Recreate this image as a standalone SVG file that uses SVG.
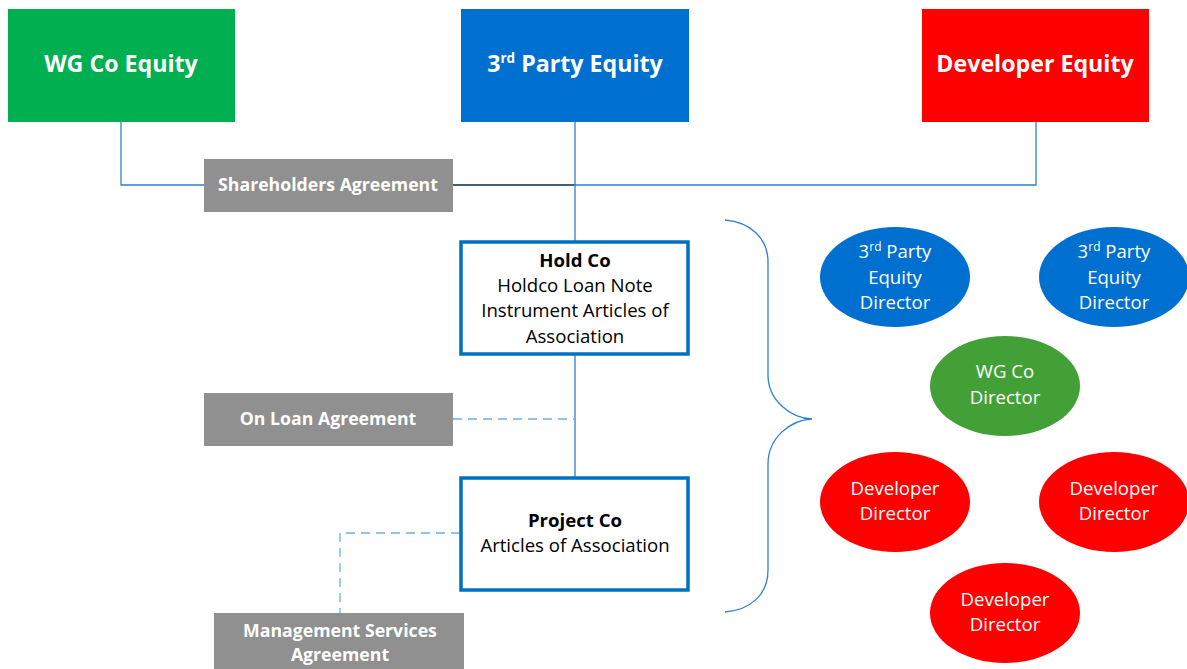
<svg xmlns="http://www.w3.org/2000/svg" width="1187" height="669" viewBox="0 0 1187 669">
<style>
.t{font-family:"Open Sans","Liberation Sans",sans-serif;text-anchor:middle}
.big{font-size:23.2px;font-weight:bold;fill:#fff}
.ag{font-size:17.7px;font-weight:bold;fill:#fff}
.bx{font-size:18.6px;fill:#000}
.el{font-size:18.6px;fill:#fff}
.b{font-weight:bold}
.conn{fill:none;stroke:#2E7FD6;stroke-width:1.3}
.dash{fill:none;stroke:#6AAEE8;stroke-width:1.3;stroke-dasharray:9 6}
.co{fill:#fff;stroke:#0070C0;stroke-width:3.5}
.grey{fill:#8F908F}
</style>
<rect width="1187" height="669" fill="#fff"/>
<g id="connectors">
<path class="conn" d="M121 122V185H1036V122"/>
<path d="M453 185H575" fill="none" stroke="#3A4A5A" stroke-width="1.3"/>
<path class="conn" d="M575 122V241M575 355V477"/>
<path class="dash" d="M453 419H575"/>
<path class="dash" d="M460 533H340V613"/>
<path class="conn" d="M725 220C750 222 768 238 768 262V375C768 400 790 418 812 419C790 420 768 438 768 464V570C768 595 750 610 725 612"/>
</g>
<g id="wg-equity"><rect x="8" y="9" width="227" height="113" fill="#00B050"/><text class="t big" x="121" y="72">WG Co Equity</text></g>
<g id="third-equity"><rect x="461" y="9" width="228" height="113" fill="#0070D0"/><text class="t big" x="575" y="72">3<tspan font-size="13.5" dy="-9">rd</tspan><tspan dy="9"> Party Equity</tspan></text></g>
<g id="dev-equity"><rect x="922" y="9" width="227" height="113" fill="#FF0000"/><text class="t big" x="1035" y="72">Developer Equity</text></g>
<g id="sha"><rect class="grey" x="204" y="159" width="249" height="53"/><text class="t ag" x="328" y="191">Shareholders Agreement</text></g>
<g id="holdco"><rect class="co" x="461" y="242" width="227" height="112"/>
<text class="t bx" x="575"><tspan class="b" x="575" y="267">Hold Co</tspan><tspan x="575" y="292">Holdco Loan Note</tspan><tspan x="575" y="317">Instrument Articles of</tspan><tspan x="575" y="343">Association</tspan></text></g>
<g id="onloan"><rect class="grey" x="204" y="393" width="249" height="53"/><text class="t ag" x="328" y="425">On Loan Agreement</text></g>
<g id="projectco"><rect class="co" x="461" y="478" width="227" height="112"/>
<text class="t bx"><tspan class="b" x="575" y="527">Project Co</tspan><tspan x="575" y="552">Articles of Association</tspan></text></g>
<g id="msa"><rect class="grey" x="214" y="613" width="250" height="56"/><text class="t ag"><tspan x="340" y="637">Management Services</tspan><tspan x="340" y="661">Agreement</tspan></text></g>
<g id="dir1"><ellipse cx="895" cy="277" rx="75" ry="50" fill="#0070D0"/><text class="t el"><tspan x="895" y="258">3<tspan font-size="12" dy="-7">rd</tspan><tspan dy="7"> Party</tspan></tspan><tspan x="895" y="284">Equity</tspan><tspan x="895" y="309">Director</tspan></text></g>
<g id="dir2"><ellipse cx="1114" cy="277" rx="75" ry="50" fill="#0070D0"/><text class="t el"><tspan x="1114" y="258">3<tspan font-size="12" dy="-7">rd</tspan><tspan dy="7"> Party</tspan></tspan><tspan x="1114" y="284">Equity</tspan><tspan x="1114" y="309">Director</tspan></text></g>
<g id="dir3"><ellipse cx="1005" cy="386" rx="75" ry="50" fill="#43A037"/><text class="t el"><tspan x="1005" y="378">WG Co</tspan><tspan x="1005" y="404">Director</tspan></text></g>
<g id="dir4"><ellipse cx="895" cy="502" rx="75" ry="50" fill="#FF0000"/><text class="t el"><tspan x="895" y="495">Developer</tspan><tspan x="895" y="520">Director</tspan></text></g>
<g id="dir5"><ellipse cx="1114" cy="502" rx="75" ry="50" fill="#FF0000"/><text class="t el"><tspan x="1114" y="495">Developer</tspan><tspan x="1114" y="520">Director</tspan></text></g>
<g id="dir6"><ellipse cx="1005" cy="613" rx="75" ry="50" fill="#FF0000"/><text class="t el"><tspan x="1005" y="606">Developer</tspan><tspan x="1005" y="631">Director</tspan></text></g>
</svg>
